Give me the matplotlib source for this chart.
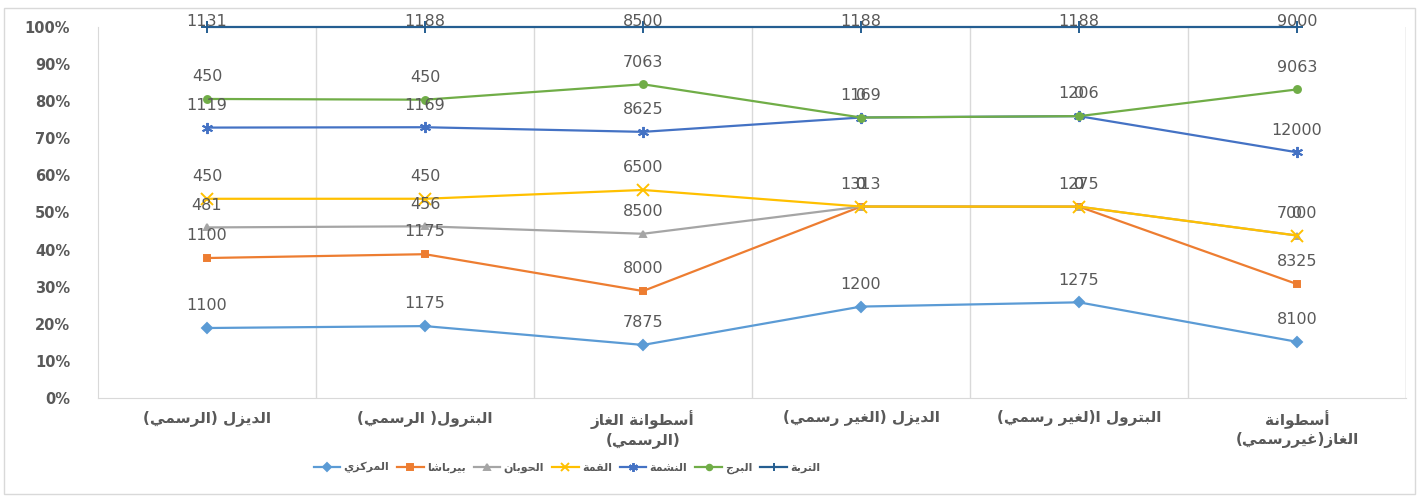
import numpy as np
import matplotlib
matplotlib.use('Agg')
import matplotlib.pyplot as plt
from matplotlib.ticker import PercentFormatter

# Categories (x axis) and series values
categories = ['الديزل (الرسمي)', 'البترول( الرسمي)', 'أسطوانة الغاز\n(الرسمي)',
              'الديزل (الغير رسمي)', 'البترول ا(لغير رسمي)', 'أسطوانة\nالغاز(غيررسمي)']
series_names = ['المركزي', 'بيرباشا', 'الحوبان', 'القمة', 'النشمة', 'البرج', 'التربة']

markazi = [1100, 1175, 7875, 1200, 1275, 8100]
birbasha = [1100, 1175, 8000, 1313, 1275, 8325]
hawban = [481, 456, 8500, 0, 0, 7000]
qemma = [450, 450, 6500, 0, 0, 0]
nashama = [1119, 1169, 8625, 1169, 1206, 12000]
barh = [450, 450, 7063, 0, 0, 9063]
turba = [1131, 1188, 8500, 1188, 1188, 9000]

colors = ['#5B9BD5', '#ED7D31', '#A5A5A5', '#FFC000', '#4472C4', '#70AD47', '#255E91']
markers = ['D', 's', '^', 'x', (6, 2, 0), 'o', '+']

# --- minimal arabic shaping (matplotlib has no bidi / joining) ---
FORMS = {
    'ء': (0xFE80,), 'آ': (0xFE81, 0xFE82), 'أ': (0xFE83, 0xFE84), 'ؤ': (0xFE85, 0xFE86),
    'إ': (0xFE87, 0xFE88), 'ئ': (0xFE89, 0xFE8A, 0xFE8B, 0xFE8C), 'ا': (0xFE8D, 0xFE8E),
    'ب': (0xFE8F, 0xFE90, 0xFE91, 0xFE92), 'ة': (0xFE93, 0xFE94),
    'ت': (0xFE95, 0xFE96, 0xFE97, 0xFE98), 'ث': (0xFE99, 0xFE9A, 0xFE9B, 0xFE9C),
    'ج': (0xFE9D, 0xFE9E, 0xFE9F, 0xFEA0), 'ح': (0xFEA1, 0xFEA2, 0xFEA3, 0xFEA4),
    'خ': (0xFEA5, 0xFEA6, 0xFEA7, 0xFEA8), 'د': (0xFEA9, 0xFEAA), 'ذ': (0xFEAB, 0xFEAC),
    'ر': (0xFEAD, 0xFEAE), 'ز': (0xFEAF, 0xFEB0), 'س': (0xFEB1, 0xFEB2, 0xFEB3, 0xFEB4),
    'ش': (0xFEB5, 0xFEB6, 0xFEB7, 0xFEB8), 'ص': (0xFEB9, 0xFEBA, 0xFEBB, 0xFEBC),
    'ض': (0xFEBD, 0xFEBE, 0xFEBF, 0xFEC0), 'ط': (0xFEC1, 0xFEC2, 0xFEC3, 0xFEC4),
    'ظ': (0xFEC5, 0xFEC6, 0xFEC7, 0xFEC8), 'ع': (0xFEC9, 0xFECA, 0xFECB, 0xFECC),
    'غ': (0xFECD, 0xFECE, 0xFECF, 0xFED0), 'ف': (0xFED1, 0xFED2, 0xFED3, 0xFED4),
    'ق': (0xFED5, 0xFED6, 0xFED7, 0xFED8), 'ك': (0xFED9, 0xFEDA, 0xFEDB, 0xFEDC),
    'ل': (0xFEDD, 0xFEDE, 0xFEDF, 0xFEE0), 'م': (0xFEE1, 0xFEE2, 0xFEE3, 0xFEE4),
    'ن': (0xFEE5, 0xFEE6, 0xFEE7, 0xFEE8), 'ه': (0xFEE9, 0xFEEA, 0xFEEB, 0xFEEC),
    'و': (0xFEED, 0xFEEE), 'ى': (0xFEEF, 0xFEF0), 'ي': (0xFEF1, 0xFEF2, 0xFEF3, 0xFEF4),
}
MIRROR = {'(': ')', ')': '('}


def shape_line(s):
    out = []
    for i, ch in enumerate(s):
        f = FORMS.get(ch)
        if f is None:
            out.append(MIRROR.get(ch, ch))
            continue
        prev = s[i - 1] if i > 0 else ''
        nxt = s[i + 1] if i < len(s) - 1 else ''
        jp = prev in FORMS and len(FORMS[prev]) == 4
        jn = nxt in FORMS and len(f) == 4
        if len(f) == 1:
            out.append(chr(f[0]))
        elif len(f) == 2:
            out.append(chr(f[1] if jp else f[0]))
        else:
            if jp and jn:
                out.append(chr(f[3]))
            elif jp:
                out.append(chr(f[1]))
            elif jn:
                out.append(chr(f[2]))
            else:
                out.append(chr(f[0]))
    return ''.join(out[::-1])


def ar(s):
    return '\n'.join(shape_line(l) for l in s.split('\n'))


data = np.array([markazi, birbasha, hawban, qemma, nashama, barh, turba], dtype=float)
totals = data.sum(axis=0)
cum = np.cumsum(data, axis=0) / totals

txt = '#595959'
fig = plt.figure(figsize=(14.2, 4.98), dpi=100)
ax = fig.add_axes([98 / 1420, 1 - 398 / 498, (1406 - 98) / 1420, (398 - 27) / 498])

x = np.arange(len(categories))
for k in range(len(series_names)):
    ms = 8 if k in (3, 4, 6) else 5
    ax.plot(x, cum[k], color=colors[k], lw=1.6, marker=markers[k], ms=ms,
            mew=1.4, label=ar(series_names[k]), clip_on=False, zorder=3 + k)
    off = 4 if k == len(series_names) - 1 else 16
    for i in x:
        ax.annotate(f'{int(data[k, i])}', (i, cum[k, i]), xytext=(0, off),
                    textcoords='offset points', ha='center', va='center',
                    fontsize=11.5, color=txt, zorder=20, annotation_clip=False)

ax.set_xlim(-0.5, len(categories) - 0.5)
ax.set_ylim(0, 1)
ax.set_yticks(np.arange(0, 1.01, 0.1))
ax.yaxis.set_major_formatter(PercentFormatter(1.0, decimals=0))
ax.set_xticks(x)
ax.set_xticklabels([ar(c) for c in categories], fontsize=11, fontweight='bold', color=txt)
ax.set_xticks(np.arange(0.5, len(categories), 1), minor=True)
ax.grid(True, axis='x', which='minor', color='#D9D9D9', lw=1)
ax.tick_params(axis='x', which='both', length=0, pad=9)
ax.tick_params(axis='y', length=0, pad=20, labelsize=10.5, labelcolor=txt)
for t in ax.get_yticklabels():
    t.set_fontweight('bold')
for s in ['top', 'right']:
    ax.spines[s].set_visible(False)
ax.spines['left'].set_color('#D9D9D9')
ax.spines['bottom'].set_color('#D9D9D9')
ax.axvline(len(categories) - 0.5, color='#D9D9D9', lw=1)

leg = ax.legend(ncol=7, loc='center', bbox_to_anchor=(567 / 1420, 1 - 468 / 498),
                bbox_transform=fig.transFigure, frameon=False, fontsize=8,
                handlelength=2.4, columnspacing=0.7, handletextpad=0.3,
                markerscale=0.8)
for t in leg.get_texts():
    t.set_color(txt)
    t.set_fontweight('bold')

fig.patches.append(plt.Rectangle((4 / 1420, 4 / 498), 1 - 9 / 1420, 1 - 12 / 498,
                                 transform=fig.transFigure, fill=False,
                                 edgecolor='#D9D9D9', lw=1))
fig.savefig('out.png', dpi=100)
